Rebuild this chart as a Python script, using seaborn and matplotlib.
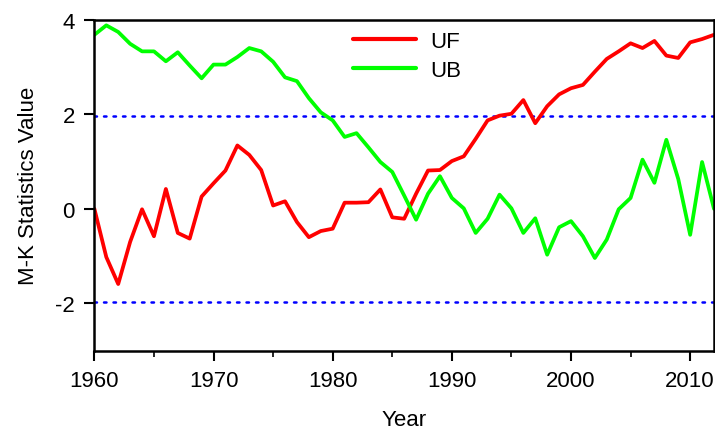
import numpy as np
import pandas as pd
import matplotlib
matplotlib.use("Agg")
import matplotlib.pyplot as plt
import seaborn as sns
from matplotlib.ticker import MultipleLocator

years = list(range(1960, 2013))
uf = [0.00, -1.02, -1.59, -0.70, -0.01, -0.58, 0.42, -0.51, -0.63, 0.26,
      0.54, 0.81, 1.34, 1.14, 0.82, 0.07, 0.16, -0.28, -0.60, -0.47,
      -0.42, 0.13, 0.13, 0.14, 0.41, -0.18, -0.21, 0.32, 0.81, 0.82,
      1.01, 1.11, 1.48, 1.87, 1.97, 2.01, 2.30, 1.81, 2.17, 2.42,
      2.55, 2.62, 2.90, 3.17, 3.33, 3.50, 3.40, 3.55, 3.24, 3.19,
      3.52, 3.59, 3.68]
ub = [3.68, 3.88, 3.74, 3.49, 3.33, 3.33, 3.12, 3.31, 3.03, 2.76,
      3.05, 3.05, 3.21, 3.40, 3.33, 3.11, 2.78, 2.70, 2.34, 2.04,
      1.87, 1.52, 1.60, 1.30, 0.99, 0.78, 0.28, -0.23, 0.32, 0.69,
      0.23, 0.01, -0.51, -0.21, 0.30, 0.01, -0.51, -0.20, -0.97, -0.39,
      -0.26, -0.58, -1.04, -0.65, -0.01, 0.23, 1.04, 0.55, 1.46, 0.63,
      -0.55, 0.99, 0.00]
crit = 1.96
series_names = ["UF", "UB"]
series_colors = ["#ff0000", "#00ff00"]
y_ticks = [-2, 0, 2, 4]

df = pd.DataFrame({"Year": years, "UF": uf, "UB": ub})
long = df.melt(id_vars="Year", var_name="series", value_name="value")

sns.set_style("ticks")
plt.rcParams["font.family"] = ["Liberation Sans", "DejaVu Sans"]
plt.rcParams["axes.unicode_minus"] = False
for k in ("text.color", "axes.labelcolor", "xtick.color", "ytick.color"):
    plt.rcParams[k] = "black"

FS = 16

fig = plt.figure(figsize=(7.15, 4.35), dpi=100)
ax = fig.add_axes([0.132, 0.1915, 0.8666, 0.761])

sns.lineplot(data=long, x="Year", y="value", hue="series",
             hue_order=series_names, palette=series_colors,
             linewidth=2.7, ax=ax)

for c in (crit, -crit):
    ax.axhline(c, color="#0000ff", linewidth=1.8, linestyle=(0, (1, 2.8)),
               dash_capstyle="round", zorder=1)

ax.set_xlim(1960, 2012)
ax.set_ylim(-3, 4)
ax.set_yticks(y_ticks)
ax.xaxis.set_major_locator(MultipleLocator(10))
ax.xaxis.set_minor_locator(MultipleLocator(5))
ax.tick_params(axis="both", which="major", direction="out", length=7,
               width=1.5, labelsize=FS, pad=7, colors="black")
ax.tick_params(axis="x", which="minor", direction="out", length=4, width=1.2)
for sp in ax.spines.values():
    sp.set_visible(True)
    sp.set_linewidth(1.8)
    sp.set_color("black")

ax.set_xlabel("Year", fontsize=FS, labelpad=13)
ax.set_ylabel("M-K Statistics Value", fontsize=FS, labelpad=12)

leg = ax.legend(loc="upper left", bbox_to_anchor=(0.418, 0.965), frameon=False,
                fontsize=FS, handlelength=2.8, handletextpad=0.65,
                labelspacing=0.35, borderpad=0, borderaxespad=0)
for h in leg.get_lines():
    h.set_linewidth(3)

fig.savefig("out.png", dpi=100)
